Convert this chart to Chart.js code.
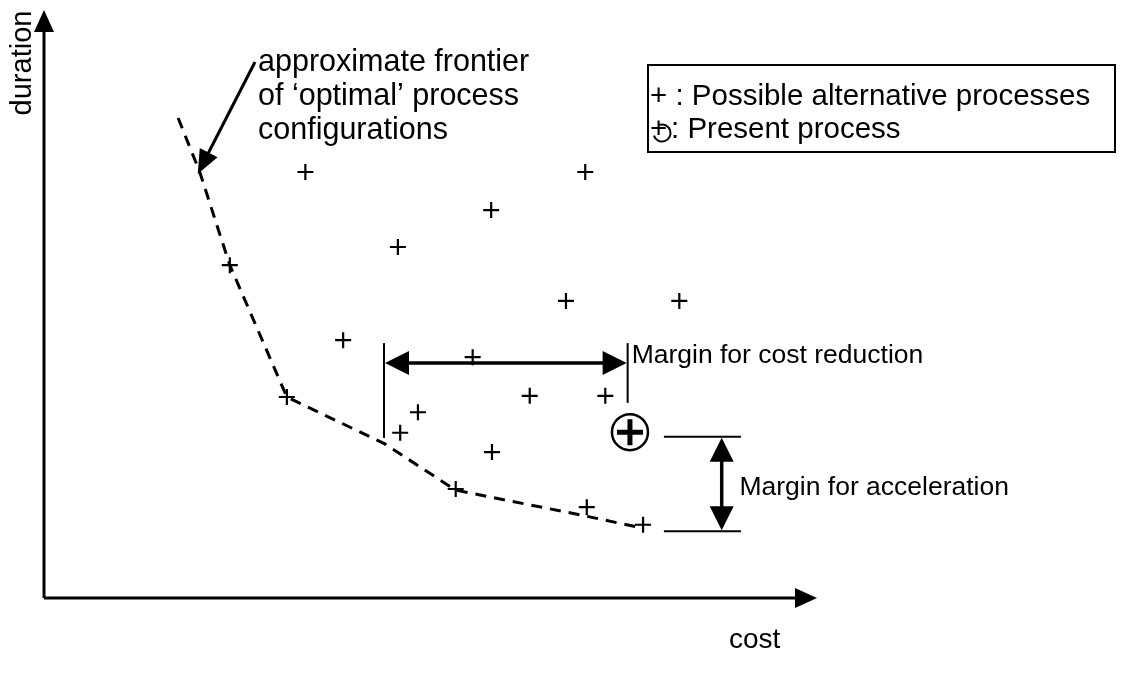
<!DOCTYPE html>
<html>
<head>
<meta charset="utf-8">
<script src="https://cdn.jsdelivr.net/npm/chart.js@4"></script>
<style>
  body { margin: 0; background: #fff; }
  #wrap { width: 1125px; height: 673px; }
</style>
</head>
<body>
<div id="wrap"><canvas id="frontier"></canvas></div>
<script>
// cost / duration in arbitrary units (0..100 on both axes)
const altCost     = [33.9, 70.2, 58.0, 45.9, 24.1, 67.7, 82.4, 38.8, 55.6, 31.5, 63.0, 72.8, 48.5, 46.2, 58.1, 53.4, 70.4, 77.7];
const altDuration = [72.7, 72.7, 66.2, 59.9, 56.8, 50.7, 50.7, 44.0, 41.1, 34.3, 34.5, 34.5, 31.7, 28.2, 24.9, 18.6, 15.5, 12.5];

const frontierCost     = [17.4, 20.2, 24.1, 31.5, 44.2, 53.4, 69.5, 77.7];
const frontierDuration = [81.9, 72.7, 56.8, 34.3, 26.3, 18.4, 14.2, 11.9];

const presentCost = [76.0];
const presentDuration = [28.3];

const labels = {
  x: 'cost',
  y: 'duration',
  frontier: ['approximate frontier', 'of \u2018optimal\u2019 process', 'configurations'],
  legendAlt: '+ : Possible alternative processes',
  legendPresent: ': Present process',
  costMargin: 'Margin for cost reduction',
  accelMargin: 'Margin for acceleration'
};

function pts(xs, ys) {
  return xs.map((x, i) => ({ x: x, y: ys[i] }));
}

const FONT = '"Liberation Sans", Arial, sans-serif';

function arrowHead(ctx, x1, y1, x2, y2, len, half) {
  // filled triangle with its tip at (x2, y2)
  const a = Math.atan2(y2 - y1, x2 - x1);
  ctx.beginPath();
  ctx.moveTo(x2, y2);
  ctx.lineTo(x2 - len * Math.cos(a) + half * Math.sin(a), y2 - len * Math.sin(a) - half * Math.cos(a));
  ctx.lineTo(x2 - len * Math.cos(a) - half * Math.sin(a), y2 - len * Math.sin(a) + half * Math.cos(a));
  ctx.closePath();
  ctx.fill();
}

function line(ctx, x1, y1, x2, y2, w) {
  ctx.lineWidth = w;
  ctx.beginPath();
  ctx.moveTo(x1, y1);
  ctx.lineTo(x2, y2);
  ctx.stroke();
}

const sketchPlugin = {
  id: 'sketch',
  afterDatasetsDraw(chart) {
    const ctx = chart.ctx;
    const xs = chart.scales.x, ys = chart.scales.y;
    const X = v => xs.getPixelForValue(v);
    const Y = v => ys.getPixelForValue(v);
    const area = chart.chartArea;
    ctx.save();
    ctx.strokeStyle = '#000';
    ctx.fillStyle = '#000';
    ctx.setLineDash([]);

    // axes with arrows
    line(ctx, area.left, area.bottom, area.left, area.top + 12, 3);
    arrowHead(ctx, area.left, area.bottom, area.left, area.top - 2, 22, 10);
    line(ctx, area.left, area.bottom, area.right - 12, area.bottom, 3);
    arrowHead(ctx, area.left, area.bottom, area.right + 2, area.bottom, 22, 10);

    ctx.textBaseline = 'middle';
    ctx.textAlign = 'left';
    ctx.font = '28px ' + FONT;
    ctx.fillText(labels.x, area.right - 86, area.bottom + 42);
    ctx.save();
    ctx.translate(area.left - 21, area.top + 51);
    ctx.rotate(-Math.PI / 2);
    ctx.textAlign = 'center';
    ctx.font = '29px ' + FONT;
    ctx.fillText(labels.y, 0, 0);
    ctx.restore();

    // frontier callout
    const tipX = X(frontierCost[1]) - 2, tipY = Y(frontierDuration[1]) + 2;
    line(ctx, 255, 62, tipX + 6, tipY - 12, 3);
    arrowHead(ctx, 255, 62, tipX, tipY, 24, 10);
    ctx.font = '30.5px ' + FONT;
    labels.frontier.forEach((t, i) => ctx.fillText(t, 258, 63 + i * 34));

    // margin for cost reduction
    ctx.font = '26.5px ' + FONT;
    const cy = Y(40.1);
    const cl = X(44.1), cr = X(75.7);
    line(ctx, cl, Y(43.5), cl, Y(27.3), 2);
    line(ctx, cr, Y(43.5), cr, Y(33.3), 2);
    line(ctx, cl + 18, cy, cr - 18, cy, 3.5);
    arrowHead(ctx, cr, cy, cl + 1, cy, 24, 12);
    arrowHead(ctx, cl, cy, cr - 1, cy, 24, 12);
    ctx.fillText(labels.costMargin, cr + 4, Y(41.4));

    // margin for acceleration
    const ax = X(87.9), at = Y(27.5), ab = Y(11.4);
    line(ctx, X(80.4), at, X(90.4), at, 2);
    line(ctx, X(80.4), ab, X(90.4), ab, 2);
    line(ctx, ax, at + 18, ax, ab - 18, 3.5);
    arrowHead(ctx, ax, ab, ax, at + 1, 24, 12);
    arrowHead(ctx, ax, at, ax, ab - 1, 24, 12);
    ctx.fillText(labels.accelMargin, X(90.2), Y(18.9));

    // legend box
    ctx.lineWidth = 2;
    ctx.strokeRect(648, 65, 467, 87);
    ctx.font = '29.5px ' + FONT;
    ctx.fillText(labels.legendAlt, 650, 97);
    ctx.fillText('+', 650, 130);
    ctx.lineWidth = 2;
    ctx.beginPath();
    ctx.arc(662, 133, 8.5, -0.6 * Math.PI, 0.9 * Math.PI);
    ctx.stroke();
    ctx.fillText(labels.legendPresent, 671, 130);
    ctx.restore();
  }
};

new Chart(document.getElementById('frontier'), {
  type: 'scatter',
  data: {
    datasets: [
      {
        label: 'frontier',
        data: pts(frontierCost, frontierDuration),
        showLine: true,
        borderColor: '#000',
        borderWidth: 3,
        borderDash: [11, 8],
        pointRadius: 0,
        tension: 0
      },
      {
        label: 'alternatives',
        data: pts(altCost, altDuration),
        pointStyle: 'cross',
        pointRadius: 8,
        borderColor: '#000',
        borderWidth: 2.2
      },
      {
        label: 'present circle',
        data: pts(presentCost, presentDuration),
        pointStyle: 'circle',
        pointRadius: 18,
        borderColor: '#000',
        backgroundColor: 'rgba(0,0,0,0)',
        borderWidth: 2.5
      },
      {
        label: 'present cross',
        data: pts(presentCost, presentDuration),
        pointStyle: 'cross',
        pointRadius: 13,
        borderColor: '#000',
        borderWidth: 5
      }
    ]
  },
  plugins: [sketchPlugin],
  options: {
    responsive: true,
    maintainAspectRatio: false,
    animation: false,
    layout: { autoPadding: false, padding: { left: 44, right: 310, top: 12, bottom: 75 } },
    scales: {
      x: { type: 'linear', min: 0, max: 100, display: false },
      y: { type: 'linear', min: 0, max: 100, display: false }
    },
    plugins: {
      legend: { display: false },
      tooltip: { enabled: false }
    }
  }
});
</script>
</body>
</html>
